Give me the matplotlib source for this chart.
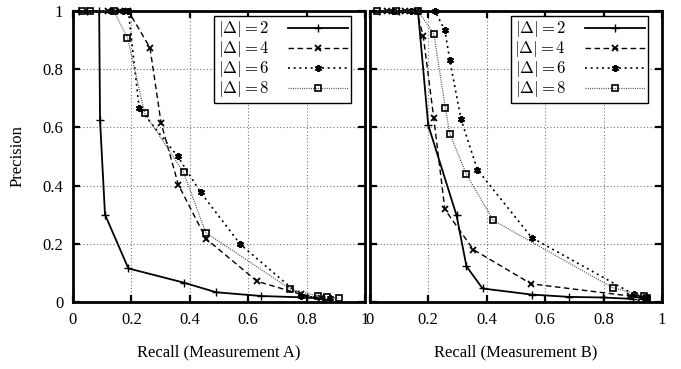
import matplotlib

matplotlib.use("Agg")
import matplotlib.pyplot as plt
from matplotlib.ticker import FixedLocator, FuncFormatter

plt.rcParams["font.family"] = ["Liberation Serif", "DejaVu Serif"]
plt.rcParams["mathtext.fontset"] = "cm"

# Measurement A
a_recall_2 = [0.02, 0.05, 0.09, 0.093, 0.11, 0.19, 0.38, 0.49, 0.645, 0.80, 0.86]
a_prec_2 = [1, 1, 1, 0.625, 0.30, 0.115, 0.066, 0.033, 0.02, 0.015, 0.01]
a_recall_4 = [0.12, 0.16, 0.19, 0.264, 0.302, 0.361, 0.456, 0.63, 0.78, 0.85]
a_prec_4 = [1, 1, 1, 0.874, 0.615, 0.403, 0.217, 0.071, 0.026, 0.012]
a_recall_6 = [0.13, 0.17, 0.19, 0.227, 0.359, 0.437, 0.573, 0.78, 0.88]
a_prec_6 = [1, 1, 1, 0.666, 0.50, 0.377, 0.198, 0.02, 0.012]
a_recall_8 = [0.03, 0.06, 0.14, 0.187, 0.246, 0.379, 0.455, 0.744, 0.839, 0.87, 0.91]
a_prec_8 = [1, 1, 1, 0.908, 0.648, 0.445, 0.238, 0.044, 0.02, 0.015, 0.012]

# Measurement B
b_recall_2 = [0.03, 0.10, 0.165, 0.20, 0.297, 0.331, 0.386, 0.554, 0.683, 0.797, 0.90]
b_prec_2 = [1, 1, 1, 0.608, 0.297, 0.122, 0.046, 0.025, 0.017, 0.015, 0.01]
b_recall_4 = [0.06, 0.12, 0.16, 0.183, 0.219, 0.257, 0.354, 0.552, 0.891, 0.93]
b_prec_4 = [1, 1, 1, 0.914, 0.632, 0.318, 0.18, 0.062, 0.02, 0.012]
b_recall_6 = [0.08, 0.14, 0.223, 0.257, 0.274, 0.312, 0.368, 0.554, 0.903, 0.95]
b_prec_6 = [1, 1, 1, 0.934, 0.831, 0.629, 0.455, 0.221, 0.026, 0.012]
b_recall_8 = [0.025, 0.09, 0.165, 0.219, 0.259, 0.274, 0.331, 0.423, 0.831, 0.939, 0.95]
b_prec_8 = [1, 1, 1, 0.922, 0.666, 0.577, 0.438, 0.28, 0.049, 0.02, 0.012]

deltas = [2, 4, 6, 8]
ticks = [0, 0.2, 0.4, 0.6, 0.8, 1]

STYLES = {
    2: dict(color="black", linestyle="-", linewidth=1.3, marker="+", markersize=6, markeredgewidth=1.0),
    4: dict(color="black", linestyle=(0, (4, 2.5)), linewidth=1.0, marker="x", markersize=5, markeredgewidth=1.3),
    6: dict(color="black", linestyle=(0, (1.2, 2.2)), linewidth=1.2, marker=(6, 2, 0), markersize=5, markeredgewidth=1.4),
    8: dict(color="0.3", linestyle=(0, (0.8, 1.0)), linewidth=0.9, marker="s", markersize=5,
            markerfacecolor="none", markeredgecolor="black", markeredgewidth=1.2),
}


def fmt(v, _pos):
    return "0" if abs(v) < 1e-9 else ("1" if abs(v - 1) < 1e-9 else f"{v:.1f}")


fig = plt.figure(figsize=(6.81, 3.69), dpi=100)
ax_a = fig.add_axes([0.107, 0.182, 0.429, 0.788])
ax_b = fig.add_axes([0.543, 0.182, 0.429, 0.788])

series = {
    ax_a: [(a_recall_2, a_prec_2), (a_recall_4, a_prec_4), (a_recall_6, a_prec_6), (a_recall_8, a_prec_8)],
    ax_b: [(b_recall_2, b_prec_2), (b_recall_4, b_prec_4), (b_recall_6, b_prec_6), (b_recall_8, b_prec_8)],
}

for ax, data in series.items():
    for d, (r, p) in zip(deltas, data):
        ax.plot(r, p, label=rf"$|\Delta| = {d}$", clip_on=False, zorder=3, **STYLES[d])
    ax.set_xlim(0, 1)
    ax.set_ylim(0, 1)
    ax.xaxis.set_major_locator(FixedLocator(ticks))
    ax.yaxis.set_major_locator(FixedLocator(ticks))
    ax.xaxis.set_major_formatter(FuncFormatter(fmt))
    ax.yaxis.set_major_formatter(FuncFormatter(fmt))
    ax.grid(True, color="0.45", linestyle=(0, (1, 2)), linewidth=0.8)
    ax.tick_params(direction="in", length=5, width=1.6, top=True, right=True, labelsize=12, pad=7)
    for s in ax.spines.values():
        s.set_linewidth(2.0)
    leg = ax.legend(loc="upper right", bbox_to_anchor=(0.952, 0.983), fontsize=12, handlelength=3.6,
                    fancybox=False, framealpha=1, edgecolor="black", borderpad=0.2, labelspacing=0.0,
                    handletextpad=1.1, borderaxespad=0, markerfirst=False)
    leg.get_frame().set_linewidth(1.0)

ax_b.tick_params(labelleft=False)
ax_a.set_ylabel("Precision", fontsize=12, labelpad=12)
ax_a.set_xlabel("Recall (Measurement A)", fontsize=12, labelpad=12)
ax_b.set_xlabel("Recall (Measurement B)", fontsize=12, labelpad=12)

fig.savefig("out.png", dpi=100)
